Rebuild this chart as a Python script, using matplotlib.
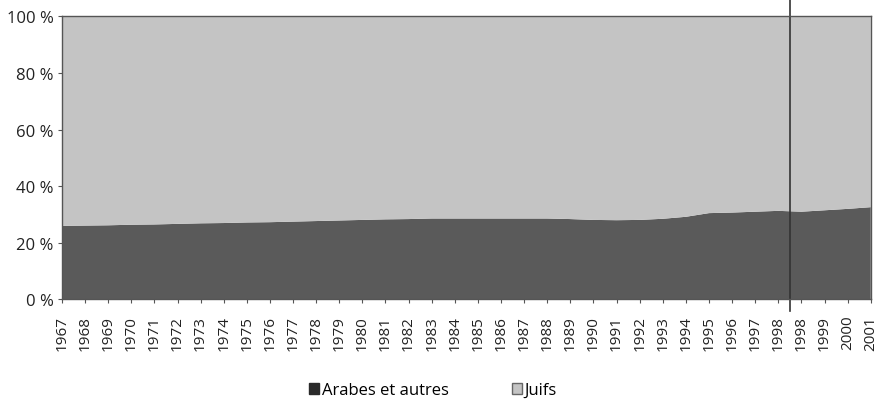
import numpy as np
import matplotlib.pyplot as plt
from matplotlib.patches import Patch

# Années (la rupture de série en 1998 apparaît deux fois)
annees = ['1967', '1968', '1969', '1970', '1971', '1972', '1973', '1974', '1975',
          '1976', '1977', '1978', '1979', '1980', '1981', '1982', '1983', '1984',
          '1985', '1986', '1987', '1988', '1989', '1990', '1991', '1992', '1993',
          '1994', '1995', '1996', '1997', '1998', '1998', '1999', '2000', '2001']

# Part des Arabes et autres (%)
arabes_autres = [26.0, 26.1, 26.2, 26.4, 26.5, 26.7, 26.9, 27.0, 27.2,
                 27.3, 27.5, 27.7, 27.9, 28.1, 28.3, 28.4, 28.6, 28.6,
                 28.6, 28.6, 28.6, 28.6, 28.4, 28.1, 28.0, 28.1, 28.5,
                 29.2, 30.5, 30.7, 31.0, 31.3, 31.0, 31.5, 32.0, 32.6]

# Part des Juifs (%)
juifs = [100 - v for v in arabes_autres]

plt.rcParams['font.family'] = ['Open Sans', 'DejaVu Sans']

fig = plt.figure(figsize=(8.84, 4.02), dpi=100)
ax = fig.add_axes([0.0701, 0.2525, 0.9149, 0.7045])

x = np.arange(len(annees))
ax.stackplot(x, arabes_autres, juifs, colors=['#5a5a5a', '#c4c4c4'], linewidth=0)

ax.set_xlim(0, len(annees) - 1)
ax.set_ylim(0, 100)
ax.set_yticks([0, 20, 40, 60, 80, 100])
ax.set_yticklabels([f'{v} %' for v in [0, 20, 40, 60, 80, 100]], fontsize=12, color='#222222')
ax.set_xticks(x)
ax.set_xticklabels(annees, rotation=90, fontsize=11, color='#222222')
ax.tick_params(axis='both', length=3, color='#555555')
ax.tick_params(axis='y', pad=3)
ax.tick_params(axis='x', pad=8)

for s in ax.spines.values():
    s.set_color('#555555')
    s.set_linewidth(1.0)

# Ligne verticale de la rupture de série
ax.axvline(31.5, ymin=-0.04, ymax=1.07, color='#333333', linewidth=1.2, clip_on=False)

# Légende
handles = [Patch(facecolor='#2a2a2a', edgecolor='#2a2a2a', label='Arabes et autres'),
           Patch(facecolor='#c4c4c4', edgecolor='#666666', label='Juifs')]
fig.legend(handles=handles, loc='center', bbox_to_anchor=(0.49, 0.027), ncol=2,
           frameon=False, fontsize=12, handlelength=0.6, handleheight=0.6,
           handletextpad=0.15, columnspacing=3.8)

plt.savefig('out.png', dpi=100)
